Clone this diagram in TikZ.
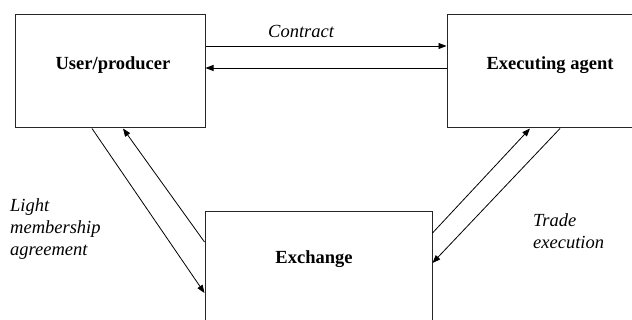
\documentclass[tikz,border=0pt]{standalone}
\usepackage{fontspec}
\setmainfont{Liberation Serif}
\usetikzlibrary{arrows.meta}
\begin{document}
\begin{tikzpicture}[x=1pt,y=-1pt,
  box/.style={draw=black!85,line width=1pt,rectangle,inner sep=0pt},
  lbl/.style={font=\fontsize{18.5}{22}\selectfont\bfseries,inner sep=0pt,anchor=base},
  itl/.style={font=\fontsize{18.5}{22}\selectfont\itshape,inner sep=0pt,align=left,anchor=base west},
  conn/.style={line width=0.8pt,-{Triangle[length=8pt,width=6pt]}}]
\useasboundingbox (0,0) rectangle (632,320);
\clip (0,0) rectangle (632,320);
\node[box,minimum width=190pt,minimum height=113pt] (user) at (110,71.5) {};
\node[box,minimum width=213pt,minimum height=113pt] (exec) at (553.5,71.5) {};
\node[box,minimum width=227pt,minimum height=113pt] (exch) at (318.5,268.5) {};
\node[lbl] (tuser) at (113,70) {User/producer};
\node[lbl] (texec) at (550,70) {Executing agent};
\node[lbl] (texch) at (314,264) {Exchange};
\node[itl] (contract) at (268,38) {Contract};
\node[itl] (light) at (10,256) {Light\\membership\\agreement};
\node[itl] (trade) at (533,249) {Trade\\execution};
\draw[conn] ([yshift=25.5pt]user.east) -- ([yshift=25.5pt]exec.west);
\draw[conn] ([yshift=3.5pt]exec.west) -- ([yshift=3.5pt]user.east);
\draw[conn] ([xshift=-18pt]user.south) -- ([yshift=-24.5pt]exch.west);
\draw[conn] ([yshift=26.5pt]exch.west) -- ([xshift=13pt]user.south);
\draw[conn] ([yshift=35.5pt]exch.east) -- ([xshift=-23.5pt]exec.south);
\draw[conn] ([xshift=6.5pt]exec.south) -- ([yshift=5.5pt]exch.east);
\end{tikzpicture}
\end{document}
